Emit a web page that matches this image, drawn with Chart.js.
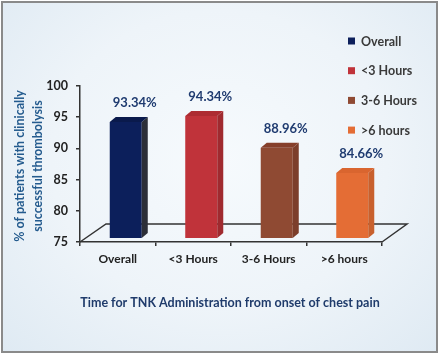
<!DOCTYPE html>
<html><head><meta charset="utf-8">
<script src="https://cdn.jsdelivr.net/npm/chart.js@4"></script>
<style>
html,body{margin:0;padding:0;background:#fff;width:440px;height:355px;overflow:hidden;}
#frame{position:absolute;left:1px;top:1px;width:433px;height:348px;border:2px solid #8a8a8a;
background:radial-gradient(ellipse at 50% 45%, #f6fafd 0%, #eef4f9 55%, #dfeaf3 100%);}
canvas{position:absolute;left:0;top:0;}
</style></head><body>
<div id="frame"></div>
<canvas id="c" width="440" height="355" style="width:440px;height:355px"></canvas>
<script>
const categories = ['Overall', '<3 Hours', '3-6 Hours', '>6 hours'];
const values = [93.34, 94.34, 88.96, 84.66];
const valueLabels = ['93.34%', '94.34%', '88.96%', '84.66%'];
const legendLabels = ['Overall', '<3 Hours', '3-6 Hours', '>6 hours'];
const yMin = 75, yMax = 100, yStep = 5;
const xTitle = 'Time for TNK Administration from onset of chest pain';
const yTitle = ['% of patients with clinically', 'successful thrombolysis'];

const frontColors = ['#0c1f5b', '#c0333a', '#8f4a33', '#e46d35'];
const sideColors = ['#2c2f38', '#a02a2f', '#7c3e2b', '#c8602d'];
const topColors = ['#0a1a4c', '#ad2c32', '#853f2b', '#d9652f'];

const FONT = 'Lato, "Open Sans", sans-serif';
const DX = 8, DY = -4;          // front plane offset inside the floor
const BDX = 6, BDY = -5;        // bar depth
const FDX = 26, FDY = -18;      // floor depth

const plugin3d = {
  id: 'bars3d',
  beforeDatasetsDraw(chart) {
    const ctx = chart.ctx, a = chart.chartArea;
    ctx.save();
    ctx.strokeStyle = '#333';
    ctx.lineWidth = 1.5;
    ctx.beginPath();
    ctx.moveTo(a.left, a.bottom);
    ctx.lineTo(a.left + FDX, a.bottom + FDY);
    ctx.lineTo(a.right + FDX - 1, a.bottom + FDY);
    ctx.lineTo(a.right, a.bottom);
    ctx.stroke();
    ctx.restore();
    ctx.save();
    ctx.translate(DX, DY);
  },
  afterDatasetsDraw(chart) {
    const ctx = chart.ctx;
    const meta = chart.getDatasetMeta(0);
    const base = chart.chartArea.bottom;
    const pts = [];
    meta.data.forEach((bar, i) => {
      const x = bar.x, y = bar.y, w = bar.width;
      const l = x - w / 2, r = x + w / 2;
      ctx.fillStyle = sideColors[i];
      ctx.beginPath();
      ctx.moveTo(r, y); ctx.lineTo(r + BDX, y + BDY);
      ctx.lineTo(r + BDX, base + BDY); ctx.lineTo(r, base);
      ctx.closePath(); ctx.fill();
      ctx.fillStyle = topColors[i];
      ctx.beginPath();
      ctx.moveTo(l, y); ctx.lineTo(l + BDX, y + BDY);
      ctx.lineTo(r + BDX, y + BDY); ctx.lineTo(r, y);
      ctx.closePath(); ctx.fill();
      pts.push({ x, y });
    });
    ctx.restore();

    // value labels
    ctx.save();
    ctx.font = 'bold 13px ' + FONT;
    ctx.fillStyle = '#1f3b70';
    ctx.textAlign = 'center';
    ctx.textBaseline = 'middle';
    pts.forEach((p, i) => {
      ctx.fillText(valueLabels[i], p.x + DX + 9, p.y + DY - 19);
    });

    // legend
    ctx.font = 'bold 12.5px ' + FONT;
    ctx.textAlign = 'left';
    legendLabels.forEach((t, i) => {
      const cy = 41 + i * 29.7;
      ctx.fillStyle = frontColors[i];
      ctx.fillRect(348, cy - 3.5, 7, 7);
      ctx.fillStyle = '#3a3a3a';
      ctx.fillText(t, 361, cy + 0.5);
    });

    // x title
    ctx.font = 'bold 12.5px ' + FONT;
    ctx.fillStyle = '#1f3b6b';
    ctx.textAlign = 'center';
    ctx.fillText(xTitle, 230, 303);

    // y title
    ctx.fillStyle = '#245b8e';
    ctx.font = 'bold 12.5px ' + FONT;
    ctx.translate(0, 166);
    ctx.rotate(-Math.PI / 2);
    ctx.fillText(yTitle[0], 0, 20);
    ctx.fillText(yTitle[1], 0, 38);
    ctx.restore();
  }
};

new Chart(document.getElementById('c'), {
  type: 'bar',
  data: {
    labels: categories,
    datasets: [{
      data: values,
      backgroundColor: frontColors,
      borderWidth: 0,
      barPercentage: 0.424,
      categoryPercentage: 1,
      yAxisID: 'y2'
    }]
  },
  options: {
    responsive: false,
    animation: false,
    events: [],
    layout: { padding: { left: 0, right: 58, top: 86, bottom: 73 } },
    plugins: { legend: { display: false }, tooltip: { enabled: false } },
    scales: {
      x: {
        type: 'category',
        grid: { drawOnChartArea: false, tickLength: 4, color: '#333', lineWidth: 1.5, offset: true },
        border: { color: '#333', width: 1.5 },
        ticks: { font: { family: FONT, weight: 'bold', size: 12 }, color: '#222', padding: 6 },
        afterFit(s) { s.height = 40; }
      },
      y: {
        type: 'linear', min: yMin, max: yMax,
        ticks: { stepSize: yStep, font: { family: FONT, weight: 'bold', size: 12.5 }, color: '#222', padding: 8 },
        grid: { drawOnChartArea: false, tickLength: 4, color: '#333', lineWidth: 1.5 },
        border: { color: '#333', width: 1.5 },
        afterFit(s) { s.width = 80; }
      },
      y2: { type: 'linear', display: false, min: 73.63, max: 100.11 }
    }
  },
  plugins: [plugin3d]
});
</script>
</body></html>
